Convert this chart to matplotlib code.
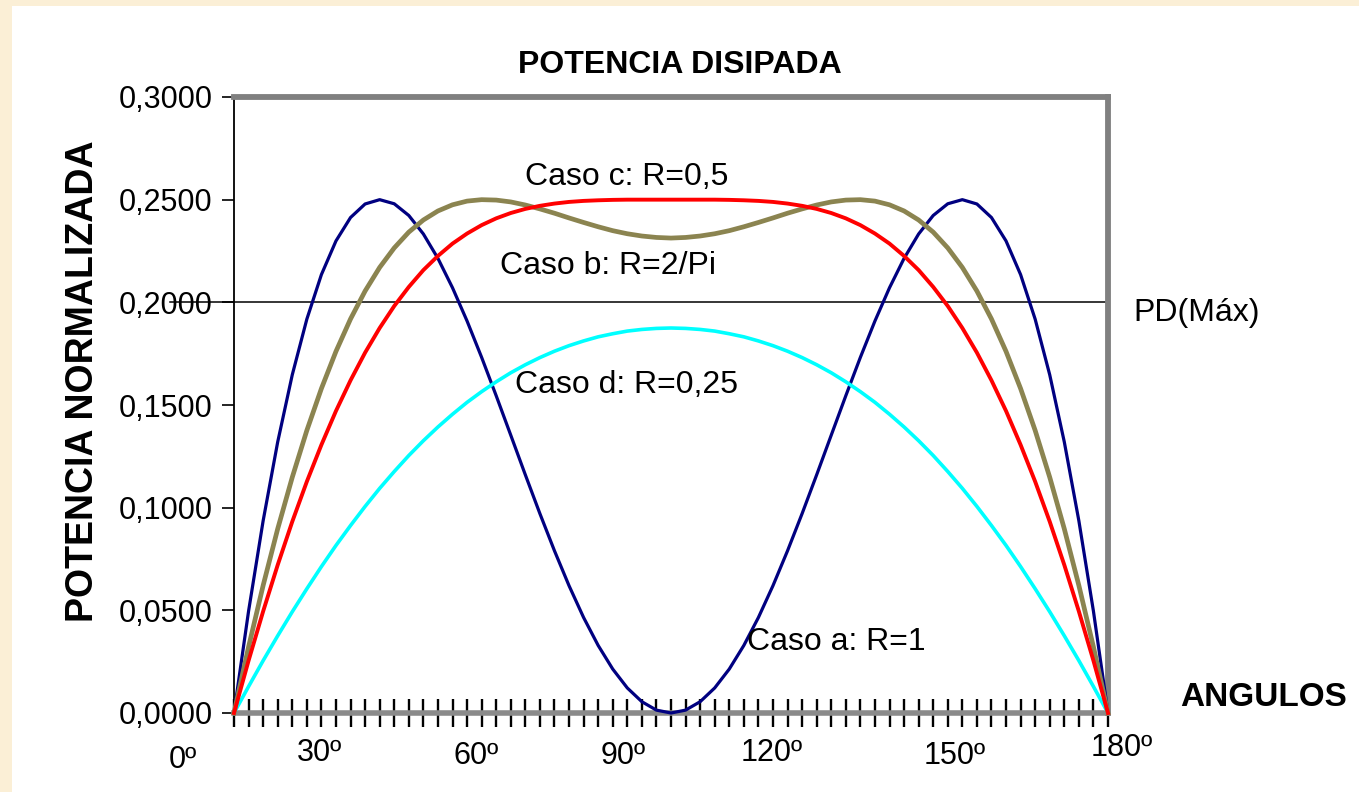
import matplotlib
matplotlib.use("Agg")
import matplotlib.pyplot as plt
from matplotlib.patches import Rectangle

plt.rcParams['font.family'] = ['Liberation Sans', 'DejaVu Sans']

# ---------------- data ----------------
ANGULOS = [0, 3, 6, 9, 12, 15, 18, 21, 24, 27, 30, 33, 36, 39, 42, 45, 48, 51, 54, 57,
           60, 63, 66, 69, 72, 75, 78, 81, 84, 87, 90, 93, 96, 99, 102, 105, 108, 111,
           114, 117, 120, 123, 126, 129, 132, 135, 138, 141, 144, 147, 150, 153, 156,
           159, 162, 165, 168, 171, 174, 177, 180]

caso_a = [0.0000, 0.0496, 0.0936, 0.1320, 0.1647, 0.1918, 0.2135, 0.2299, 0.2413, 0.2479,
          0.2500, 0.2480, 0.2423, 0.2333, 0.2214, 0.2071, 0.1909, 0.1732, 0.1545, 0.1353,
          0.1160, 0.0971, 0.0790, 0.0620, 0.0465, 0.0329, 0.0214, 0.0122, 0.0055, 0.0014,
          0.0000, 0.0014, 0.0055, 0.0122, 0.0214, 0.0329, 0.0465, 0.0620, 0.0790, 0.0971,
          0.1160, 0.1353, 0.1545, 0.1732, 0.1909, 0.2071, 0.2214, 0.2333, 0.2423, 0.2480,
          0.2500, 0.2479, 0.2413, 0.2299, 0.2135, 0.1918, 0.1647, 0.1320, 0.0936, 0.0496,
          0.0000]

caso_b = [0.0000, 0.0322, 0.0621, 0.0897, 0.1148, 0.1376, 0.1580, 0.1761, 0.1919, 0.2055,
          0.2170, 0.2265, 0.2342, 0.2401, 0.2445, 0.2475, 0.2493, 0.2500, 0.2498, 0.2489,
          0.2474, 0.2455, 0.2434, 0.2411, 0.2389, 0.2368, 0.2349, 0.2334, 0.2323, 0.2316,
          0.2313, 0.2316, 0.2323, 0.2334, 0.2349, 0.2368, 0.2389, 0.2411, 0.2434, 0.2455,
          0.2474, 0.2489, 0.2498, 0.2500, 0.2493, 0.2475, 0.2445, 0.2401, 0.2342, 0.2265,
          0.2170, 0.2055, 0.1919, 0.1761, 0.1580, 0.1376, 0.1148, 0.0897, 0.0621, 0.0322,
          0.0000]

caso_c = [0.0000, 0.0255, 0.0495, 0.0721, 0.0932, 0.1127, 0.1306, 0.1471, 0.1620, 0.1755,
          0.1875, 0.1982, 0.2075, 0.2157, 0.2226, 0.2286, 0.2335, 0.2376, 0.2409, 0.2435,
          0.2455, 0.2470, 0.2481, 0.2489, 0.2494, 0.2497, 0.2499, 0.2500, 0.2500, 0.2500,
          0.2500, 0.2500, 0.2500, 0.2500, 0.2499, 0.2497, 0.2494, 0.2489, 0.2481, 0.2470,
          0.2455, 0.2435, 0.2409, 0.2376, 0.2335, 0.2286, 0.2226, 0.2157, 0.2075, 0.1982,
          0.1875, 0.1755, 0.1620, 0.1471, 0.1306, 0.1127, 0.0932, 0.0721, 0.0495, 0.0255,
          0.0000]

caso_d = [0.0000, 0.0129, 0.0255, 0.0376, 0.0493, 0.0605, 0.0713, 0.0816, 0.0913, 0.1006,
          0.1094, 0.1176, 0.1254, 0.1326, 0.1393, 0.1455, 0.1513, 0.1565, 0.1613, 0.1657,
          0.1696, 0.1731, 0.1762, 0.1789, 0.1812, 0.1832, 0.1847, 0.1860, 0.1868, 0.1873,
          0.1875, 0.1873, 0.1868, 0.1860, 0.1847, 0.1832, 0.1812, 0.1789, 0.1762, 0.1731,
          0.1696, 0.1657, 0.1613, 0.1565, 0.1513, 0.1455, 0.1393, 0.1326, 0.1254, 0.1176,
          0.1094, 0.1006, 0.0913, 0.0816, 0.0713, 0.0605, 0.0493, 0.0376, 0.0255, 0.0129,
          0.0000]

PD_MAX = 0.2

Y_TICKS = [0.0, 0.05, 0.10, 0.15, 0.20, 0.25, 0.30]
Y_TICK_LABELS = ['0,0000', '0,0500', '0,1000', '0,1500', '0,2000', '0,2500', '0,3000']
X_LABELS = ['0º', '30º', '60º', '90º', '120º', '150º', '180º']

# ---------------- figure ----------------
W, H = 1359, 792
fig = plt.figure(figsize=(W / 100, H / 100), dpi=100, facecolor='#FBEFD6')
fig.patches.append(Rectangle((12 / W, 0), 1, 1 - 6 / H, transform=fig.transFigure,
                             facecolor='white', edgecolor='none', zorder=-5))

x0, x1, ytop, ybot = 234, 1108, 97, 713
ax = fig.add_axes([x0 / W, 1 - ybot / H, (x1 - x0) / W, (ybot - ytop) / H])
ax.set_xlim(0, 180)
ax.set_ylim(0, 0.3)
ax.set_facecolor('white')

# curves
ax.plot(ANGULOS, caso_a, color='#000080', lw=2.3, zorder=3, clip_on=False)
ax.plot(ANGULOS, caso_d, color='#00FFFF', lw=2.6, zorder=3, clip_on=False)
ax.plot(ANGULOS, caso_b, color='#8B8450', lw=3.4, zorder=3, clip_on=False)
ax.plot(ANGULOS, caso_c, color='#FF0000', lw=2.8, zorder=3, clip_on=False)

# PD max line
ax.axhline(PD_MAX, xmin=(170 - x0) / (x1 - x0), xmax=1, color='black', lw=1.1,
           zorder=2, clip_on=False)

# spines
for s in ('top', 'right'):
    ax.spines[s].set_color('#808080')
    ax.spines[s].set_linewidth(4.2)
ax.spines['bottom'].set_color('#8a8a8a')
ax.spines['bottom'].set_linewidth(4.0)
ax.spines['left'].set_color('black')
ax.spines['left'].set_linewidth(1.3)
ax.axhline(0, color='black', lw=1.2, zorder=2.5, clip_on=False)

# ticks
ax.set_yticks(Y_TICKS)
ax.set_yticklabels(Y_TICK_LABELS)
ax.tick_params(axis='y', direction='out', length=8.5, width=1.2, pad=7,
               labelsize=22, colors='black')
ax.set_xticks(ANGULOS)
ax.tick_params(axis='x', which='major', direction='inout', length=20, width=1.7,
               color='black', labelbottom=False)

# x labels (placed as in the original)
def px2data(px, py):
    return ((px - x0) / (x1 - x0) * 180, (ybot - py) / (ybot - ytop) * 0.3)

xlab_pos = [(183, 760), (319, 753), (476, 756), (623, 756), (772, 753), (955, 756), (1122, 748)]
for lab, (px, py) in zip(X_LABELS, xlab_pos):
    dx, dy = px2data(px, py)
    ax.text(dx, dy, lab, ha='center', va='center', fontsize=22, clip_on=False)

# annotations
notes = [('Caso c: R=0,5', 525, 177), ('Caso b: R=2/Pi', 500, 266),
         ('Caso d: R=0,25', 515, 385), ('Caso a: R=1', 747, 642),
         ('PD(Máx)', 1133, 313)]
for txt, px, py in notes:
    dx, dy = px2data(px, py)
    ax.text(dx, dy, txt, ha='left', va='center', fontsize=23, clip_on=False, zorder=5)

dx, dy = px2data(1180, 697)
ax.text(dx, dy, 'ANGULOS', ha='left', va='center', fontsize=24, fontweight='bold',
        clip_on=False)

fig.text(680 / W, 1 - 65 / H, 'POTENCIA DISIPADA', ha='center', va='center',
         fontsize=23, fontweight='bold')
fig.text(83 / W, 1 - 381 / H, 'POTENCIA NORMALIZADA', ha='center', va='center',
         rotation=90, fontsize=27, fontweight='bold')

fig.savefig('out.png', dpi=100, facecolor=fig.get_facecolor())
